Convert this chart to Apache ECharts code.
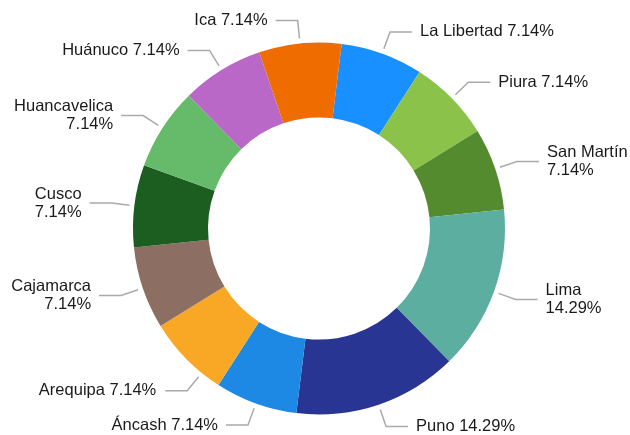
<!DOCTYPE html>
<html>
<head>
<meta charset="utf-8">
<script src="https://cdn.jsdelivr.net/npm/echarts@6/dist/echarts.min.js"></script>
<style>html,body{margin:0;padding:0;background:#fff}#c{width:630px;height:435px}</style>
</head>
<body>
<div id="c"></div>
<script>
const categories = ['La Libertad','Piura','San Martín','Lima','Puno','Áncash','Arequipa','Cajamarca','Cusco','Huancavelica','Huánuco','Ica'];
const values = [1,1,1,2,2,1,1,1,1,1,1,1];
const colors = ['#1890FF','#8BC34A','#558B2F','#5BAEA0','#283593','#1E88E5','#F9A825','#8D6E63','#1B5E20','#66BB6A','#BA68C8','#EF6C00'];
const wrapped = ['San Martín','Lima','Cajamarca','Cusco','Huancavelica'];

const total = values.reduce((a,b)=>a+b,0);
const CX = 319, CY = 228.5;
const shiftedLabel = categories.indexOf('Arequipa');
function polar(pt){ return {r:Math.hypot(pt[0]-CX, pt[1]-CY), t:Math.atan2(pt[0]-CX, -(pt[1]-CY))}; }
function cart(r,t){ return [CX + r*Math.sin(t), CY - r*Math.cos(t)]; }

const chart = echarts.init(document.getElementById('c'), null, {renderer:'canvas'});
chart.setOption({
  animation:false,
  series:[{
    type:'pie',
    center:[CX,CY],
    radius:[111,186],
    startAngle:83,
    clockwise:true,
    avoidLabelOverlap:false,
    itemStyle:{borderWidth:0},
    label:{
      show:true,
      fontFamily:'Liberation Sans, Arial, sans-serif',
      fontSize:16.5,
      color:'#1a1a1a',
      lineHeight:18,
      distanceToLabelLine:8,
      formatter:function(p){
        const pct=(p.value/total*100).toFixed(2)+'%';
        return wrapped.indexOf(p.name)>=0 ? p.name+'\n'+pct : p.name+' '+pct;
      }
    },
    labelLine:{show:true,length:23,length2:22,lineStyle:{color:'#aaa',width:1.5}},
    labelLayout:function(p){
      const pts = p.labelLinePoints;
      if (!pts) return {};
      const a = polar(pts[0]);
      const out = {};
      if (p.dataIndex === shiftedLabel) {
        const d = 6.5*Math.PI/180;
        const b = polar(pts[1]);
        const p0 = cart(a.r+5, a.t - d);
        const p1 = cart(b.r, b.t - d);
        const side = pts[2][0] < pts[1][0] ? -1 : 1;
        const p2 = [p1[0] + side*Math.abs(pts[2][0]-pts[1][0]), p1[1]];
        out.labelLinePoints = [p0,p1,p2];
        out.x = p2[0] + side*9;
        out.y = p2[1];
      } else {
        out.labelLinePoints = [cart(a.r+5, a.t), pts[1], pts[2]];
      }
      return out;
    },
    data:categories.map((n,i)=>({name:n,value:values[i],itemStyle:{color:colors[i]}}))
  }]
});
</script>
</body>
</html>
